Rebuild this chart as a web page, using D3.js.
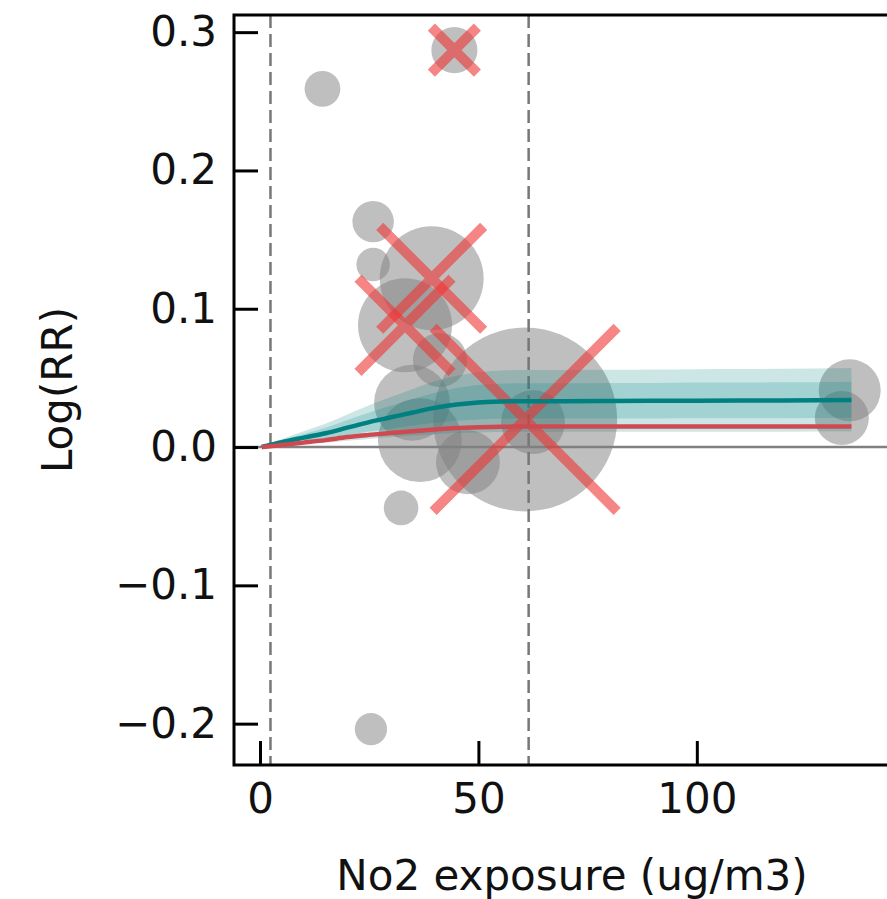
<!DOCTYPE html>
<html lang="en">
<head>
    <meta charset="UTF-8">
    <title>Log(RR) vs No2 exposure</title>
    <style>
        body {
            margin: 0;
            padding: 0;
            background-color: white;
        }
        svg text {
            font-family: "DejaVu Sans", sans-serif;
            fill: #111;
        }
    </style>
</head>
<body>
    <svg width="887" height="899"></svg>

    <script src="https://d3js.org/d3.v7.min.js"></script>
    <script>
        // study points: exposure, log RR, weight (bubble area)
        const studyX = [14.3, 44.5, 25.9, 25.9, 39.3, 33.2, 32.3, 25.4, 60.7, 135.0, 133.2, 34.8, 41.2, 36.6, 47.6, 62.5];
        const studyLogRR = [0.259, 0.287, 0.163, 0.132, 0.122, 0.088, -0.044, -0.204, 0.020, 0.041, 0.021, 0.032, 0.063, 0.005, -0.011, 0.018];
        const studyWeight = [32, 53, 43, 28, 270, 221, 30, 26, 846, 96, 73, 144, 73, 176, 102, 102];
        // studies marked with a cross
        const excluded = [false, true, false, false, true, true, false, false, true, false, false, false, false, false, false, false];

        // fitted curves
        const curveX = [0.4, 5, 10, 15, 20, 25, 30, 35, 40, 45, 50, 55, 60, 70, 80, 90, 100, 110, 120, 135.4];
        const tealMean = [0, 0.0035, 0.0068, 0.0100, 0.0140, 0.0180, 0.0215, 0.0250, 0.0283, 0.0307, 0.0322, 0.0329, 0.0332, 0.0332, 0.0333, 0.0334, 0.0335, 0.0336, 0.0337, 0.0340];
        const tealOuterUp = [0, 0.0059, 0.0114, 0.0168, 0.0235, 0.0302, 0.0361, 0.0420, 0.0476, 0.0516, 0.0541, 0.0553, 0.0558, 0.0558, 0.0559, 0.0561, 0.0563, 0.0564, 0.0566, 0.0571];
        const tealOuterLow = [0, 0.0012, 0.0022, 0.0033, 0.0046, 0.0059, 0.0071, 0.0083, 0.0093, 0.0101, 0.0106, 0.0109, 0.0110, 0.0110, 0.0110, 0.0110, 0.0111, 0.0111, 0.0111, 0.0112];
        const tealInnerUp = [0, 0.0049, 0.0095, 0.0139, 0.0195, 0.0250, 0.0299, 0.0348, 0.0393, 0.0427, 0.0448, 0.0458, 0.0461, 0.0461, 0.0463, 0.0464, 0.0466, 0.0467, 0.0468, 0.0473];
        const tealInnerLow = [0, 0.0022, 0.0042, 0.0062, 0.0087, 0.0112, 0.0133, 0.0155, 0.0175, 0.0190, 0.0200, 0.0204, 0.0206, 0.0206, 0.0206, 0.0207, 0.0208, 0.0208, 0.0209, 0.0211];
        const redMean = [0, 0.0015, 0.0032, 0.0050, 0.0072, 0.0088, 0.0102, 0.0115, 0.0127, 0.0137, 0.0143, 0.0147, 0.0148, 0.0148, 0.0148, 0.0148, 0.0148, 0.0149, 0.0149, 0.0149];

        const refLines = [2.4, 61.5];
        const xTicks = [0, 50, 100];
        const yTicks = [-0.2, -0.1, 0.0, 0.1, 0.2, 0.3];

        const svg = d3.select("svg");
        const box = {left: 234, right: 910, top: 15, bottom: 765};
        const fontSize = 42;

        const x = d3.scaleLinear()
            .domain([-5.95, 148.8])
            .range([box.left, box.right]);

        const y = d3.scaleLinear()
            .domain([-0.2299, 0.3124])
            .range([box.bottom, box.top]);

        const r = d3.scaleSqrt()
            .domain([0, 846])
            .range([0, 92]);

        const studies = studyX.map((v, i) => ({x: v, y: studyLogRR[i], w: studyWeight[i], out: excluded[i]}));
        const curve = curveX.map((v, i) => ({
            x: v, t: tealMean[i], red: redMean[i],
            ou: tealOuterUp[i], ol: tealOuterLow[i],
            iu: tealInnerUp[i], il: tealInnerLow[i]
        }));

        // bubbles
        svg.append("g")
            .selectAll("circle")
            .data(studies)
            .join("circle")
            .attr("cx", d => x(d.x))
            .attr("cy", d => y(d.y))
            .attr("r", d => r(d.w))
            .attr("fill", "#808080")
            .attr("fill-opacity", 0.5);

        // zero line
        svg.append("line")
            .attr("x1", box.left).attr("x2", box.right)
            .attr("y1", y(0)).attr("y2", y(0))
            .attr("stroke", "#808080")
            .attr("stroke-width", 2.5);

        // dashed reference lines
        svg.append("g")
            .selectAll("line")
            .data(refLines)
            .join("line")
            .attr("x1", d => x(d)).attr("x2", d => x(d))
            .attr("y1", box.top).attr("y2", box.bottom)
            .attr("stroke", "#777")
            .attr("stroke-width", 2.5)
            .attr("stroke-dasharray", "13,6");

        // teal uncertainty bands
        const outerArea = d3.area()
            .x(d => x(d.x)).y0(d => y(d.ol)).y1(d => y(d.ou))
            .curve(d3.curveMonotoneX);
        const innerArea = d3.area()
            .x(d => x(d.x)).y0(d => y(d.il)).y1(d => y(d.iu))
            .curve(d3.curveMonotoneX);

        svg.append("path")
            .datum(curve)
            .attr("d", outerArea)
            .attr("fill", "teal")
            .attr("fill-opacity", 0.2);

        svg.append("path")
            .datum(curve)
            .attr("d", innerArea)
            .attr("fill", "teal")
            .attr("fill-opacity", 0.2);

        // crosses on excluded studies
        svg.append("g")
            .selectAll("path")
            .data(studies.filter(d => d.out))
            .join("path")
            .attr("d", d => {
                const cx = x(d.x), cy = y(d.y), h = r(d.w);
                return `M${cx - h},${cy - h}L${cx + h},${cy + h}M${cx - h},${cy + h}L${cx + h},${cy - h}`;
            })
            .attr("stroke", "#f03434")
            .attr("stroke-opacity", 0.6)
            .attr("stroke-width", 10)
            .attr("fill", "none");

        // fitted lines
        svg.append("path")
            .datum(curve)
            .attr("d", d3.line().x(d => x(d.x)).y(d => y(d.t)).curve(d3.curveMonotoneX))
            .attr("fill", "none")
            .attr("stroke", "teal")
            .attr("stroke-width", 4.5);

        svg.append("path")
            .datum(curve)
            .attr("d", d3.line().x(d => x(d.x)).y(d => y(d.red)).curve(d3.curveMonotoneX))
            .attr("fill", "none")
            .attr("stroke", "#cf4a50")
            .attr("stroke-width", 4.5);

        // axes (ticks pointing inward)
        const xAxis = svg.append("g")
            .attr("transform", `translate(0,${box.bottom})`)
            .call(d3.axisBottom(x).tickValues(xTicks).tickSizeInner(-24).tickSizeOuter(0).tickPadding(18));
        const yAxis = svg.append("g")
            .attr("transform", `translate(${box.left},0)`)
            .call(d3.axisLeft(y).tickValues(yTicks).tickFormat(d3.format(".1f")).tickSizeInner(-24).tickSizeOuter(0).tickPadding(17));

        [xAxis, yAxis].forEach(g => {
            g.select(".domain").remove();
            g.selectAll(".tick line").attr("stroke", "#000").attr("stroke-width", 3);
            g.selectAll("text").style("font-size", fontSize + "px").attr("fill", "#111");
        });

        // frame
        svg.append("rect")
            .attr("x", box.left).attr("y", box.top)
            .attr("width", box.right - box.left)
            .attr("height", box.bottom - box.top)
            .attr("fill", "none")
            .attr("stroke", "#000")
            .attr("stroke-width", 3);

        // axis labels
        svg.append("text")
            .attr("x", (box.left + box.right) / 2)
            .attr("y", 890)
            .attr("text-anchor", "middle")
            .style("font-size", fontSize + "px")
            .text("No2 exposure (ug/m3)");

        svg.append("text")
            .attr("transform", `translate(72,${(box.top + box.bottom) / 2}) rotate(-90)`)
            .attr("text-anchor", "middle")
            .style("font-size", fontSize + "px")
            .text("Log(RR)");
    </script>
</body>
</html>
